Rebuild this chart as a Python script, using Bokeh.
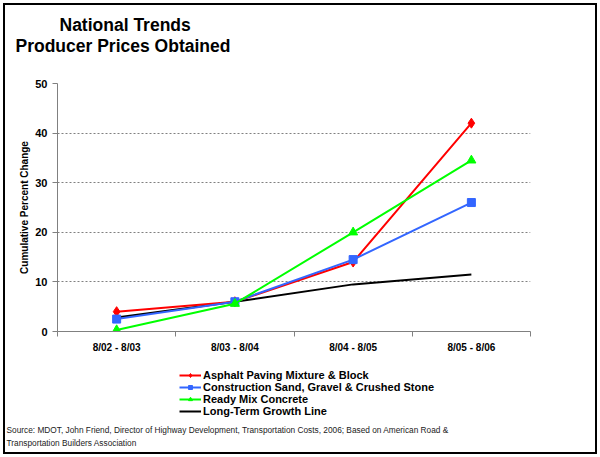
from bokeh.plotting import figure
from bokeh.models import (Range1d, FixedTicker, Legend, LegendItem, Label)
from bokeh.layouts import column
from bokeh.embed import file_html
from bokeh.resources import INLINE
import numpy as np

categories = ["8/02 - 8/03", "8/03 - 8/04", "8/04 - 8/05", "8/05 - 8/06"]
asphalt = [4.0, 6.0, 14.0, 42.0]
sand = [2.5, 6.0, 14.5, 26.0]
ready_mix = [0.3, 5.6, 20.0, 34.5]
long_term = [2.8, 6.0, 9.5, 11.5]
y_ticks = [0, 10, 20, 30, 40, 50]

series_names = ["Asphalt Paving Mixture & Block",
                "Construction Sand, Gravel & Crushed Stone",
                "Ready Mix Concrete",
                "Long-Term Growth Line"]
title_lines = ["National Trends", "Producer Prices Obtained"]
source_lines = ["Source: MDOT, John Friend, Director of Highway Development, "
                "Transportation Costs, 2006; Based on American Road &",
                "Transportation Builders Association"]

FONT = "Liberation Sans"
RED, BLUE, GREEN = "#FF0000", "#3366FF", "#00FF00"
W = 590


def blank(height):
    f = figure(width=W, height=height, output_backend="svg",
               toolbar_location=None, x_axis_type=None, y_axis_type=None,
               min_border=0, title=None, frame_align=False)
    f.outline_line_color = None
    f.xgrid.visible = False
    f.ygrid.visible = False
    return f


# ---------- title strip ----------
ft = blank(70)
ft.add_layout(Label(x=54, y=51, x_units="screen", y_units="screen",
                    text=title_lines[0], text_align="left",
                    text_baseline="alphabetic", text_font=FONT,
                    text_font_style="bold", text_font_size="17.5px",
                    text_color="black"))
ft.add_layout(Label(x=10, y=30, x_units="screen", y_units="screen",
                    text=title_lines[1], text_align="left",
                    text_baseline="alphabetic", text_font=FONT,
                    text_font_style="bold", text_font_size="17.5px",
                    text_color="black"))

# ---------- chart ----------
x = (np.arange(len(categories)) + 0.5).tolist()
bounds = list(range(len(categories) + 1))

p = figure(width=W, height=290, output_backend="svg", toolbar_location=None,
           x_range=Range1d(0, len(categories)), y_range=Range1d(0, 50),
           min_border_left=52, min_border_right=65, min_border_top=8,
           min_border_bottom=34, title=None, frame_align=False)
p.outline_line_color = None

xa = p.xaxis[0]
xa.ticker = FixedTicker(ticks=x, minor_ticks=bounds)
xa.major_label_overrides = {xv: c for xv, c in zip(x, categories)}
xa.major_tick_out = 0
xa.major_tick_in = 0
xa.minor_tick_out = 5
xa.minor_tick_in = 0
xa.minor_tick_line_color = "#808080"
xa.axis_line_color = "#808080"
xa.major_label_standoff = 5
xa.major_label_text_font = FONT
xa.major_label_text_font_style = "bold"
xa.major_label_text_font_size = "10px"
xa.major_label_text_color = "black"

ya = p.yaxis[0]
ya.ticker = FixedTicker(ticks=y_ticks, minor_ticks=[])
ya.major_tick_out = 5
ya.major_tick_in = 0
ya.major_tick_line_color = "#808080"
ya.axis_line_color = "#808080"
ya.major_label_standoff = 5
ya.major_label_text_font = FONT
ya.major_label_text_font_style = "bold"
ya.major_label_text_font_size = "11px"
ya.major_label_text_color = "black"
ya.axis_label = "Cumulative Percent Change"
ya.axis_label_text_font = FONT
ya.axis_label_text_font_style = "bold"
ya.axis_label_text_font_size = "10px"
ya.axis_label_text_color = "black"
ya.axis_label_standoff = 2

p.xgrid.visible = False
p.ygrid.grid_line_color = "#808080"
p.ygrid.grid_line_dash = "2 2"
p.ygrid.grid_line_width = 1
p.ygrid.ticker = FixedTicker(ticks=y_ticks[1:])

p.line(x, long_term, line_color="black", line_width=2)
p.line(x, asphalt, line_color=RED, line_width=2)
p.scatter(x, asphalt, marker="diamond", size=10, fill_color=RED, line_color=RED)
p.line(x, sand, line_color=BLUE, line_width=2)
p.scatter(x, sand, marker="square", size=8, fill_color=BLUE, line_color=BLUE)
p.line(x, ready_mix, line_color=GREEN, line_width=2)
p.scatter(x, ready_mix, marker="triangle", size=9, fill_color=GREEN,
          line_color=GREEN)

# ---------- legend + source strip ----------
fb = blank(87)
fb.x_range = Range1d(0, 1)
fb.y_range = Range1d(0, 1)
styles = [(RED, "diamond", 9), (BLUE, "square", 8), (GREEN, "triangle", 9),
          ("black", None, 0)]
items = []
for name, (col, mk, sz) in zip(series_names, styles):
    rs = [fb.line([np.nan], [np.nan], line_color=col, line_width=2)]
    if mk is not None:
        rs.append(fb.scatter([np.nan], [np.nan], marker=mk, size=sz,
                             fill_color=col, line_color=col))
    items.append(LegendItem(label=name, renderers=rs))
legend = Legend(items=items, location=(174, 35), orientation="vertical")
legend.label_text_font = FONT
legend.label_text_font_style = "bold"
legend.label_text_font_size = "11px"
legend.label_text_color = "black"
legend.label_height = 10
legend.glyph_height = 10
legend.glyph_width = 22
legend.spacing = -4
legend.padding = 0
legend.margin = 0
legend.label_standoff = 2
legend.border_line_color = None
legend.background_fill_alpha = 0
fb.add_layout(legend, "center")

for txt, yy in zip(source_lines, [23, 10]):
    fb.add_layout(Label(x=1, y=yy, x_units="screen", y_units="screen",
                        text=txt, text_align="left", text_baseline="middle",
                        text_font=FONT, text_font_size="8.3px",
                        text_color="#222222"))

layout = column(ft, p, fb, spacing=0,
                styles={"margin": "5px 0 0 5px", "outline": "2px solid black"})

open("out.html", "w").write(file_html(layout, INLINE))
